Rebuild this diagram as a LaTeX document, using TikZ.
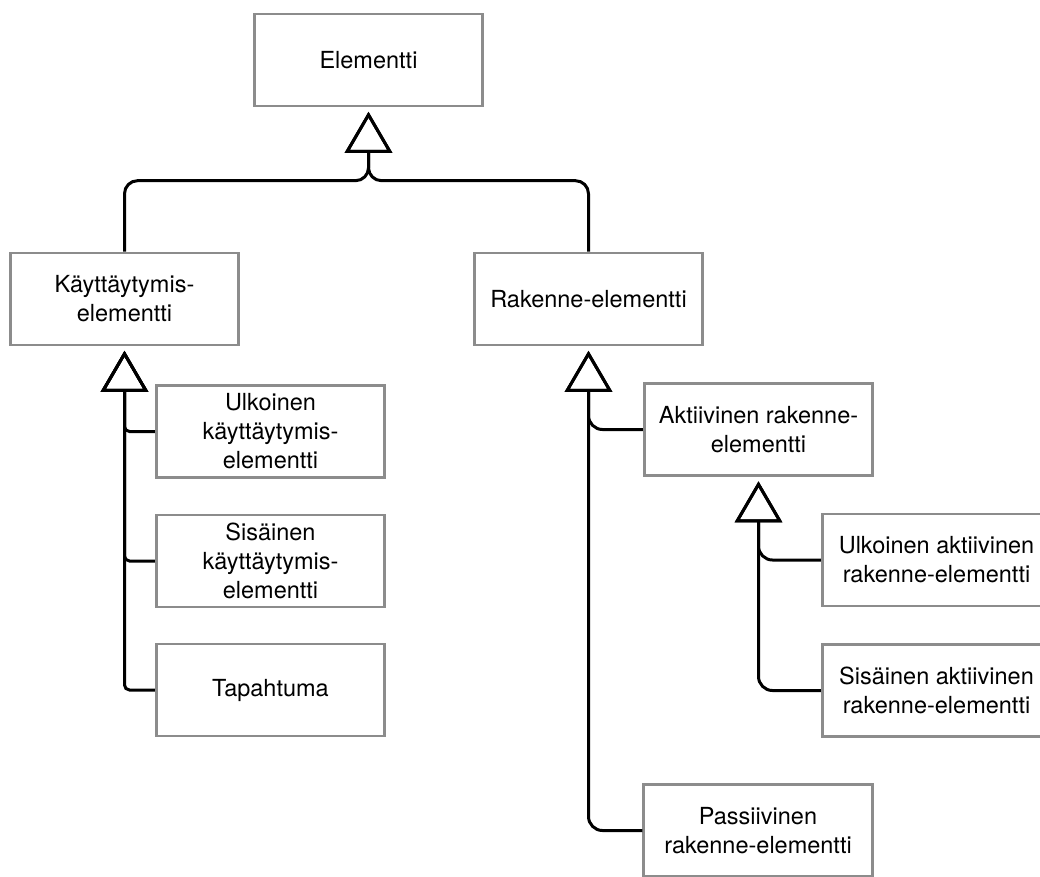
\documentclass[tikz,border=0pt]{standalone}
\usepackage{fontspec}
\setmainfont{TeX Gyre Heros}
\usetikzlibrary{arrows.meta}
\definecolor{boxgray}{RGB}{140,140,140}
\begin{document}
\begin{tikzpicture}[x=1pt,y=-1pt,
  box/.style={draw=boxgray, line width=2.6pt, minimum width=228.5pt,
    minimum height=92pt, inner sep=0pt, align=center,
    font=\fontsize{23.5}{29}\selectfont},
  gen/.style={line width=3pt, shorten >=4.5pt,
    -{Triangle[open, length=41pt 0 1, width=47pt 0 1]}},
]
\useasboundingbox (0,0) rectangle (1040,876);

% class boxes
\node[box] (el)   at (368.5,60)  {Elementti};
\node[box] (kay)  at (124.5,299) {Käyttäytymis-\\elementti};
\node[box] (rak)  at (588.5,299) {Rakenne-elementti};
\node[box] (ulk)  at (270.5,431.5) {Ulkoinen\\käyttäytymis-\\elementti};
\node[box] (sis)  at (270.5,561)   {Sisäinen\\käyttäytymis-\\elementti};
\node[box] (tap)  at (270.5,690)   {Tapahtuma};
\node[box] (akt)  at (758.5,429.5) {Aktiivinen rakenne-\\elementti};
\node[box] (ulka) at (936.5,560)   {Ulkoinen aktiivinen\\rakenne-elementti};
\node[box] (sisa) at (936.5,690.5) {Sisäinen aktiivinen\\rakenne-elementti};
\node[box] (pas)  at (758,830.5)   {Passiivinen\\rakenne-elementti};

% generalisation connectors
\draw[gen, rounded corners=13pt] (kay.north) -- ++(0,-71) -| (el.south);
\draw[gen, rounded corners=13pt] (rak.north) -- ++(0,-71) -| (el.south);

\draw[gen, rounded corners=5pt] (ulk.west) -| (kay.south);
\draw[gen, rounded corners=5pt] (sis.west) -| (kay.south);
\draw[gen, rounded corners=5pt] (tap.west) -| (kay.south);

\draw[gen, rounded corners=14pt] (akt.west) -| (rak.south);
\draw[gen, rounded corners=14pt] (pas.west) -| (rak.south);

\draw[gen, rounded corners=14pt] (ulka.west) -| (akt.south);
\draw[gen, rounded corners=14pt] (sisa.west) -| (akt.south);
\end{tikzpicture}
\end{document}
